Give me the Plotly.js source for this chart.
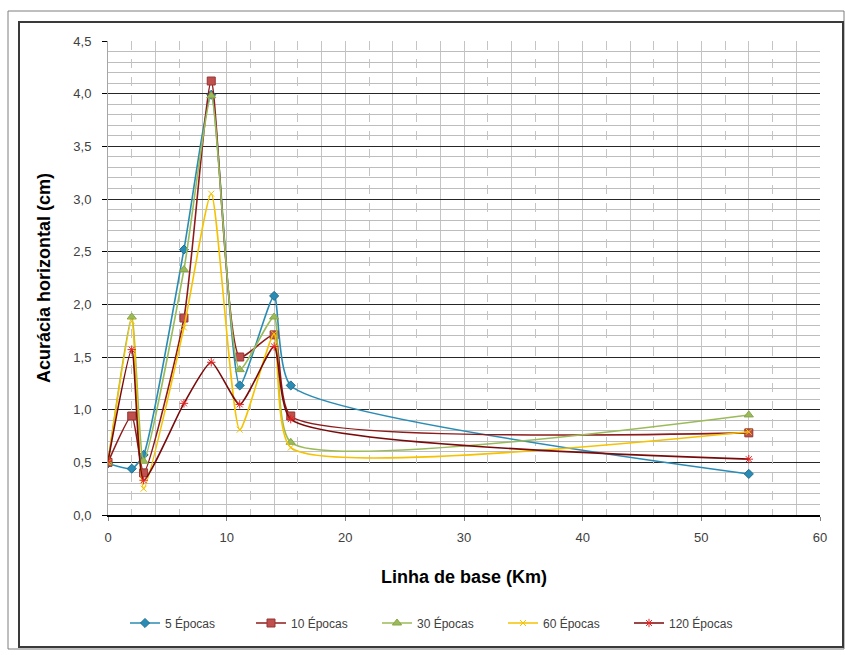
<!DOCTYPE html>
<html>
<head>
<meta charset="utf-8">
<script src="https://cdn.plot.ly/plotly-3.0.1.min.js"></script>
<style>
  html, body { margin: 0; padding: 0; background: #ffffff; }
  #chart { width: 845px; height: 655px; }
</style>
</head>
<body>
<div id="chart"></div>
<script>
// Linha de base (km) de cada ponto
const baseline = [0, 2.0, 3.0, 6.4, 8.7, 11.1, 14.0, 15.4, 54];

// Acurácia horizontal (cm) por número de épocas
const ep5   = [0.49, 0.44, 0.57, 2.52, 3.99, 1.23, 2.08, 1.23, 0.39];
const ep10  = [0.50, 0.94, 0.40, 1.87, 4.12, 1.50, 1.71, 0.94, 0.78];
const ep30  = [0.50, 1.88, 0.51, 2.33, 3.98, 1.38, 1.88, 0.69, 0.95];
const ep60  = [0.50, 1.84, 0.25, 1.78, 3.05, 0.81, 1.72, 0.64, 0.79];
const ep120 = [0.51, 1.57, 0.33, 1.06, 1.45, 1.05, 1.60, 0.91, 0.53];

const seriesNames = ['5 Épocas', '10 Épocas', '30 Épocas', '60 Épocas', '120 Épocas'];

const yTicks = [0, 0.5, 1, 1.5, 2, 2.5, 3, 3.5, 4, 4.5];
const xTicks = [0, 10, 20, 30, 40, 50, 60];

// vertical grid: solid lines at 4 and 8 inside each decade, dashed at 2 and 6
const solidMinor = [], dashedMinor = [];
for (let d = 0; d < 60; d += 10) {
  solidMinor.push(d + 4, d + 8);
  dashedMinor.push(d + 2, d + 6);
}

function line(name, y, lineColor, sym, mColor, mLine, mSize) {
  return {
    type: 'scatter', mode: 'lines+markers', name: name,
    x: baseline, y: y,
    line: { color: lineColor, width: 1.6, shape: 'spline', smoothing: 0.55 },
    marker: { symbol: sym, color: mColor, size: mSize, line: { color: mLine, width: 1 } }
  };
}

const traces = [
  line(seriesNames[0], ep5,   '#2A8CB5', 'diamond',       '#2A8CB5', '#1F6E8E', 7),
  line(seriesNames[1], ep10,  '#8E1B1B', 'square',        '#C0504D', '#943634', 8),
  line(seriesNames[2], ep30,  '#9BBB59', 'triangle-up',   '#9BBB59', '#86A64A', 8),
  line(seriesNames[3], ep60,  '#F5C200', 'x-thin-open',   '#F5C200', '#F5C200', 6),
  line(seriesNames[4], ep120, '#7A0A0A', 'asterisk-open', '#E02424', '#E02424', 7)
];

// helper axis carrying the dashed vertical grid lines
traces.push({ type: 'scatter', x: [], y: [], xaxis: 'x2', yaxis: 'y', showlegend: false, hoverinfo: 'skip' });

const W = 845, H = 655, L = 108, R = 25, T = 41, B = 140;
const pw = W - L - R, ph = H - T - B;
const px = v => (v - L) / pw;          // pixel -> paper x
const py = v => (H - B - v) / ph;      // pixel -> paper y

const layout = {
  width: W, height: H,
  margin: { l: L, r: R, t: T, b: B },
  paper_bgcolor: '#ffffff', plot_bgcolor: '#ffffff',
  separators: ',.',
  font: { family: 'Liberation Sans, Arial, sans-serif', color: '#404040', size: 12 },
  showlegend: true,
  legend: {
    orientation: 'h', x: px(125), xanchor: 'left', y: py(623), yanchor: 'middle',
    font: { family: 'Liberation Sans Narrow, Liberation Sans, Arial, sans-serif', size: 12, color: '#404040' },
    entrywidth: 81, entrywidthmode: 'pixels', itemwidth: 30, traceorder: 'normal',
    bgcolor: 'rgba(0,0,0,0)'
  },
  xaxis: {
    range: [0, 60], tickvals: xTicks, ticktext: xTicks.map(String),
    showgrid: true, gridcolor: '#c4c4c4', gridwidth: 1,
    minor: { tickmode: 'array', tickvals: solidMinor, showgrid: true, gridcolor: '#c4c4c4', gridwidth: 1, ticks: '' },
    showline: true, linecolor: '#000000', linewidth: 1.5,
    ticks: 'outside', ticklen: 4, tickcolor: '#808080', ticklabelstandoff: 6,
    zeroline: false, fixedrange: true,
    tickfont: { size: 13, color: '#404040' },
    title: { text: 'Linha de base (Km)', standoff: 26,
             font: { family: 'Liberation Sans, Arial, sans-serif', size: 18, color: '#000000', weight: 'bold' } }
  },
  xaxis2: {
    overlaying: 'x', anchor: 'y', range: [0, 60], tickvals: dashedMinor,
    showticklabels: false, ticks: '', showgrid: true, gridcolor: '#c4c4c4', griddash: 'dash', gridwidth: 1,
    showline: false, zeroline: false, fixedrange: true
  },
  yaxis: {
    range: [0, 4.5], tickvals: yTicks, tickformat: '.1f',
    showgrid: true, gridcolor: '#262626', gridwidth: 1,
    minor: { dtick: 0.1, showgrid: true, gridcolor: '#bdbdbd', gridwidth: 1, ticks: '' },
    showline: true, linecolor: '#a6a6a6', linewidth: 1,
    ticks: 'outside', ticklen: 5, tickcolor: '#000000', ticklabelstandoff: 8,
    zeroline: false, fixedrange: true,
    tickfont: { size: 13, color: '#404040' },
    title: { text: 'Acurácia horizontal (cm)', standoff: 18,
             font: { family: 'Liberation Sans, Arial, sans-serif', size: 18, color: '#000000', weight: 'bold' } }
  },
  shapes: [
    { type: 'rect', xref: 'paper', yref: 'paper', x0: px(8), x1: px(844), y0: py(649), y1: py(11),
      line: { color: '#7f7f7f', width: 1 }, fillcolor: 'rgba(0,0,0,0)', layer: 'above' },
    { type: 'rect', xref: 'paper', yref: 'paper', x0: px(19), x1: px(843), y0: py(647), y1: py(22),
      line: { color: '#3a3a3a', width: 2 }, fillcolor: 'rgba(0,0,0,0)', layer: 'above' }
  ]
};

Plotly.newPlot('chart', traces, layout, { displayModeBar: false, staticPlot: true });
</script>
</body>
</html>
